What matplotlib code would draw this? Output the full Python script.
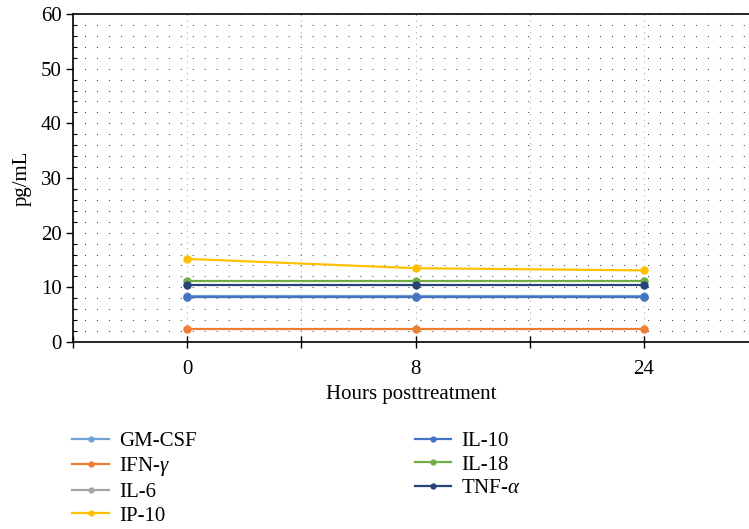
import matplotlib
matplotlib.use("Agg")
import matplotlib.pyplot as plt
from matplotlib.ticker import MultipleLocator, FixedLocator

plt.rcParams['font.family'] = ['Liberation Serif', 'DejaVu Serif']
plt.rcParams['mathtext.fontset'] = 'custom'
plt.rcParams['mathtext.rm'] = 'Liberation Serif'
plt.rcParams['mathtext.it'] = 'Liberation Serif:italic'

hours = ["0", "8", "24"]
series_names = ["GM-CSF", "IFN-$\\gamma$", "IL-6", "IP-10", "IL-10", "IL-18", "TNF-$\\alpha$"]
gm_csf = [8.4, 8.4, 8.4]
ifn_g = [2.4, 2.4, 2.4]
il_6 = [8.2, 8.2, 8.2]
ip_10 = [15.2, 13.5, 13.1]
il_10 = [8.3, 8.3, 8.3]
il_18 = [11.1, 11.1, 11.1]
tnf_a = [10.5, 10.5, 10.5]
values = [gm_csf, ifn_g, il_6, ip_10, il_10, il_18, tnf_a]
colors = ["#6fa3d8", "#ed7d31", "#a5a5a5", "#ffc000", "#4472c4", "#70ad47", "#264478"]

fig = plt.figure(figsize=(7.49, 5.29), dpi=100)
ax = fig.add_axes([73/749, (529-342)/529, 676/749, 328/529])

x = list(range(len(hours)))
for name, vals, c in zip(series_names, values, colors):
    ax.plot(x, vals, color=c, lw=1.6, marker='o', ms=5, label=name, zorder=3)

ax.set_xlim(-0.5, 2.46)
ax.set_ylim(0, 60)
ax.set_xticks(x)
ax.set_xticklabels(hours)
ax.xaxis.set_minor_locator(FixedLocator([-0.5, 0.5, 1.5, 2.5]))
ax.yaxis.set_major_locator(MultipleLocator(10))
ax.yaxis.set_minor_locator(MultipleLocator(2))

# dot grid
ax.grid(which='both', axis='y', color='#444444', lw=0.75, linestyle=(12, (1, 10.5)))
ax.grid(which='both', axis='x', color='#999999', lw=0.7, linestyle=(0, (1, 5)))
ax.set_axisbelow(True)

ax.spines['right'].set_visible(False)
for s in ['left', 'top', 'bottom']:
    ax.spines[s].set_linewidth(1.2)
    ax.spines[s].set_color('black')

ax.tick_params(axis='y', which='major', direction='out', length=5, width=1, labelsize=15, pad=3)
ax.tick_params(axis='y', which='minor', direction='in', length=3, width=0.8)
ax.tick_params(axis='x', which='both', direction='inout', length=8, width=1, labelsize=15, pad=9)

ax.set_ylabel("pg/mL", fontsize=15, labelpad=7)
ax.set_xlabel("Hours posttreatment", fontsize=15, labelpad=4)

handles, labels = ax.get_legend_handles_labels()
fig.legend(handles, labels, ncol=2, loc='upper left', bbox_to_anchor=(64/749, 1 - 423/529),
           frameon=False, fontsize=15, handlelength=1.75, columnspacing=10.45,
           labelspacing=0.2, markerscale=0.7, handletextpad=0.5, borderaxespad=0)

fig.savefig("out.png", dpi=100)
